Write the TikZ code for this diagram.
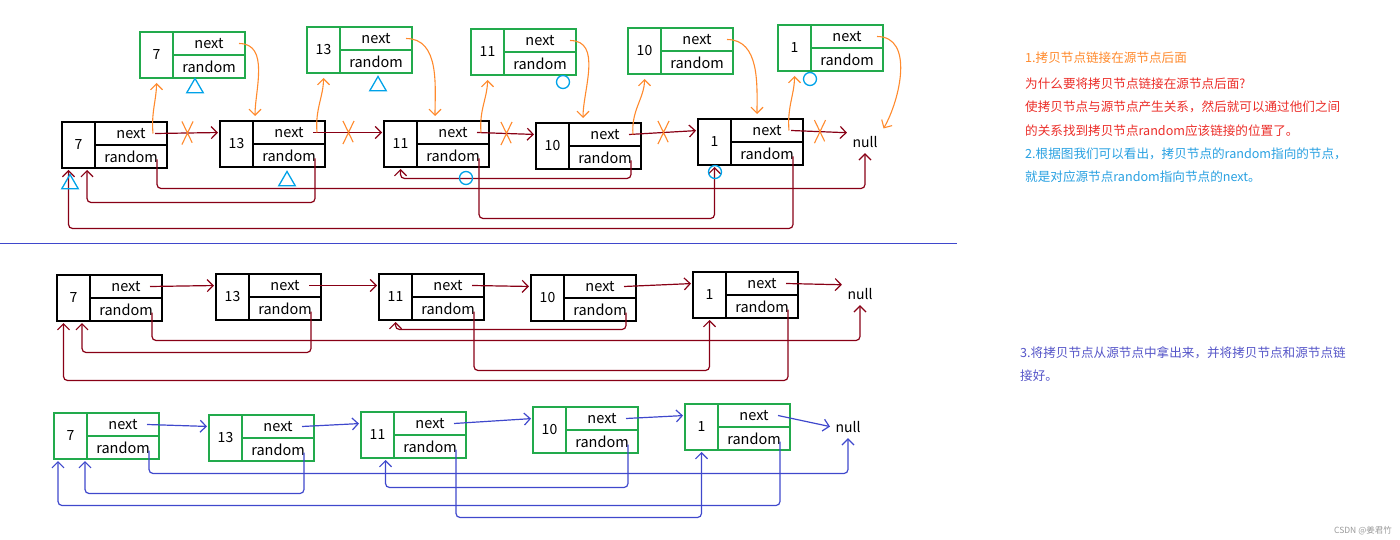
\documentclass[tikz,border=0pt]{standalone}
\usepackage{fontspec}
\newfontfamily\cjk{Noto Sans CJK SC}
\usepackage{tikz}
\usetikzlibrary{positioning,calc,arrows.meta,shapes.misc,shapes.geometric}

\definecolor{wine}{RGB}{136,0,21}
\definecolor{amber}{RGB}{255,138,45}
\definecolor{leaf}{RGB}{34,170,76}
\definecolor{indigo}{RGB}{63,72,204}
\definecolor{sky}{RGB}{0,162,232}
\definecolor{notered}{RGB}{235,45,40}
\definecolor{noteblue}{RGB}{40,160,225}
\definecolor{notepurple}{RGB}{85,85,200}

\newcommand{\listnode}[5]{%
  \node[valbox, draw=#5] (#1v) at (#2,-#3) {#4};
  \node[cellbox, draw=#5] (#1n) at (#1v.north east) {next};
  \node[cellbox, draw=#5] (#1r) at (#1n.south west) {random};
}

\begin{document}
\begin{tikzpicture}[x=1pt, y=1pt, >={Straight Barb[length=6pt,width=12pt]},
  valbox/.style={anchor=north west, minimum width=33, minimum height=46, inner sep=0, outer sep=0, line width=1.6pt, font=\cjk\fontsize{14}{16}\selectfont},
  cellbox/.style={anchor=north west, minimum width=72, minimum height=23, inner sep=0, outer sep=0, line width=1.6pt, font=\cjk\fontsize{14.5}{16}\selectfont},
  nulltext/.style={font=\cjk\fontsize{14}{16}\selectfont},
  link/.style={->, line width=1.2pt, rounded corners=4pt, shorten >=2pt},
  xmark/.style={cross out, draw=amber, line width=1.1pt, minimum width=10, minimum height=22, inner sep=0},
  copyarrow/.style={->, draw=amber, line width=1.1pt, shorten >=5pt},
  tri/.style={regular polygon, regular polygon sides=3, draw=sky, line width=1.3pt, minimum size=19, inner sep=0},
  ring/.style={circle, draw=sky, line width=1.3pt, minimum size=13, inner sep=0},
  note/.style={anchor=west, inner sep=0, font=\cjk\fontsize{12.6}{15}\selectfont}]
  \useasboundingbox (0,0) rectangle (1400,-540);

  % step 1: source list with copies linked in
  \listnode{t7}{62}{122}{7}{black}
  \listnode{t13}{220}{121}{13}{black}
  \listnode{t11}{384}{121}{11}{black}
  \listnode{t10}{536}{123}{10}{black}
  \listnode{t1}{698}{119}{1}{black}
  \node[nulltext] (tnull) at (865,-142) {null};

  \listnode{c7}{140}{32}{7}{leaf}
  \listnode{c13}{307}{27}{13}{leaf}
  \listnode{c11}{471}{29}{11}{leaf}
  \listnode{c10}{628}{28}{10}{leaf}
  \listnode{c1}{778}{25}{1}{leaf}

  \draw[link, draw=wine] ($(t7n.east)+(-12,0)$) -- node[xmark] (tx1) {} (t13v.west |- t13n);
  \draw[link, draw=wine] ($(t13n.east)+(-12,0)$) -- node[xmark] (tx2) {} (t11v.west |- t11n);
  \draw[link, draw=wine] ($(t11n.east)+(-12,0)$) -- node[xmark] (tx3) {} (t10v.west |- t10n);
  \draw[link, draw=wine] ($(t10n.east)+(-12,0)$) -- node[xmark] (tx4) {} (t1v.west |- t1n);
  \draw[link, draw=wine] ($(t1n.east)+(-12,0)$) -- node[xmark] (tx5) {} (tnull.north west);

  \draw[link, draw=wine] ($(t7r.east)+(-10,-3)$) -- ++(0,-29) -| (tnull.south);
  \draw[link, draw=wine] ($(t13r.east)+(-10,-3)$) -- ++(0,-44) -| ($(t7v.south east)+(-8,0)$);
  \draw[link, draw=wine] ($(t11r.east)+(-10,-3)$) -- ++(0,-60) -| (t1v.south);
  \draw[link, draw=wine] ($(t10r.east)+(-10,-3)$) -- ++(0,-18) -| (t11v.south);
  \draw[link, draw=wine] ($(t1r.east)+(-10,-3)$) -- ++(0,-72) -| ($(t7v.south)+(-10,0)$);

  \draw[copyarrow] ($(t7n.east)+(-14,0)$) to[out=95,in=-90] (c7v.south);
  \draw[copyarrow] ($(t13n.east)+(-8,0)$) to[out=95,in=-90] (c13v.south);
  \draw[copyarrow] ($(t11n.east)+(-8,0)$) to[out=95,in=-90] (c11v.south);
  \draw[copyarrow] ($(t10n.east)+(-8,0)$) to[out=95,in=-90] (c10v.south);
  \draw[copyarrow] ($(t1n.east)+(-14,0)$) to[out=95,in=-90] (c1v.south);
  \draw[copyarrow] ($(c7n.east)+(-6,0)$) to[out=0,in=90] ($(t13n.north west)+(2,0)$);
  \draw[copyarrow] ($(c13n.east)+(-6,0)$) to[out=0,in=90] ($(t11n.north west)+(18,0)$);
  \draw[copyarrow] ($(c11n.east)+(-6,0)$) to[out=0,in=90] ($(t10n.north west)+(14,0)$);
  \draw[copyarrow] ($(c10n.east)+(-6,0)$) to[out=0,in=90] ($(t1n.north west)+(26,0)$);
  \draw[copyarrow] ($(c1n.east)+(-6,0)$) to[out=0,in=60] (tnull.north east);

  \node[tri] (tri1) at (195,-88) {};
  \node[tri] (tri2) at (378,-86) {};
  \node[tri] (tri3) at (287,-181) {};
  \node[tri] (tri4) at (70,-184) {};
  \node[ring] (ring1) at (563,-82) {};
  \node[ring] (ring2) at (466,-178) {};
  \node[ring] (ring3) at (810,-79) {};
  \node[ring] (ring4) at (715,-172) {};

  \draw[draw=indigo, line width=1pt] (0,-243) -- (957,-243);

  % step 2: source list alone
  \listnode{m7}{57}{275}{7}{black}
  \listnode{m13}{216}{274}{13}{black}
  \listnode{m11}{379}{274}{11}{black}
  \listnode{m10}{531}{275}{10}{black}
  \listnode{m1}{693}{272}{1}{black}
  \node[nulltext] (mnull) at (860,-294) {null};

  \draw[link, draw=wine] ($(m7n.east)+(-12,0)$) -- (m13v.west |- m13n);
  \draw[link, draw=wine] ($(m13n.east)+(-12,0)$) -- (m11v.west |- m11n);
  \draw[link, draw=wine] ($(m11n.east)+(-12,0)$) -- (m10v.west |- m10n);
  \draw[link, draw=wine] ($(m10n.east)+(-12,0)$) -- (m1v.west |- m1n);
  \draw[link, draw=wine] ($(m1n.east)+(-12,0)$) -- (mnull.north west);

  \draw[link, draw=wine] ($(m7r.east)+(-10,-3)$) -- ++(0,-28) -| (mnull.south);
  \draw[link, draw=wine] ($(m13r.east)+(-10,-3)$) -- ++(0,-41) -| ($(m7v.south east)+(-8,0)$);
  \draw[link, draw=wine] ($(m11r.east)+(-10,-3)$) -- ++(0,-59) -| (m1v.south);
  \draw[link, draw=wine] ($(m10r.east)+(-10,-3)$) -- ++(0,-17) -| (m11v.south);
  \draw[link, draw=wine] ($(m1r.east)+(-10,-3)$) -- ++(0,-71) -| ($(m7v.south)+(-10,0)$);

  % step 3: copied list on its own
  \listnode{b7}{54}{413}{7}{leaf}
  \listnode{b13}{209}{415}{13}{leaf}
  \listnode{b11}{361}{412}{11}{leaf}
  \listnode{b10}{533}{407}{10}{leaf}
  \listnode{b1}{685}{404}{1}{leaf}
  \node[nulltext] (bnull) at (848,-427) {null};

  \draw[link, draw=indigo] ($(b7n.east)+(-12,0)$) -- (b13v.west |- b13n);
  \draw[link, draw=indigo] ($(b13n.east)+(-12,0)$) -- (b11v.west |- b11n);
  \draw[link, draw=indigo] ($(b11n.east)+(-12,0)$) -- (b10v.west |- b10n);
  \draw[link, draw=indigo] ($(b10n.east)+(-12,0)$) -- (b1v.west |- b1n);
  \draw[link, draw=indigo] ($(b1n.east)+(-12,0)$) -- (bnull.west);

  \draw[link, draw=indigo] ($(b7r.east)+(-10,-3)$) -- ++(0,-23) -| (bnull.south);
  \draw[link, draw=indigo] ($(b13r.east)+(-10,-3)$) -- ++(0,-41) -| ($(b7v.south east)+(-2,0)$);
  \draw[link, draw=indigo] ($(b11r.east)+(-10,-3)$) -- ++(0,-68) -| (b1v.south);
  \draw[link, draw=indigo] ($(b10r.east)+(-10,-3)$) -- ++(0,-43) -| ($(b11v.south)+(8,0)$);
  \draw[link, draw=indigo] ($(b1r.east)+(-10,-3)$) -- ++(0,-64) -| ($(b7v.south west)+(4,0)$);

  \node[note, text=amber] (note1) at (1025,-58) {1.拷贝节点链接在源节点后面};
  \node[note, text=notered] (note2) at (1025,-84) {为什么要将拷贝节点链接在源节点后面?};
  \node[note, text=notered] (note3) at (1025,-107) {使拷贝节点与源节点产生关系，然后就可以通过他们之间};
  \node[note, text=notered] (note4) at (1025,-131) {的关系找到拷贝节点random应该链接的位置了。};
  \node[note, text=noteblue] (note5) at (1025,-154) {2.根据图我们可以看出，拷贝节点的random指向的节点，};
  \node[note, text=noteblue] (note6) at (1025,-177) {就是对应源节点random指向节点的next。};
  \node[note, text=notepurple] (note7) at (1020,-353) {3.将拷贝节点从源节点中拿出来，并将拷贝节点和源节点链};
  \node[note, text=notepurple] (note8) at (1020,-376) {接好。};
  \node[anchor=east, inner sep=0, text=black!40, font=\cjk\fontsize{8.5}{10}\selectfont] (credit) at (1392,-531) {CSDN @姜君竹};
\end{tikzpicture}
\end{document}
